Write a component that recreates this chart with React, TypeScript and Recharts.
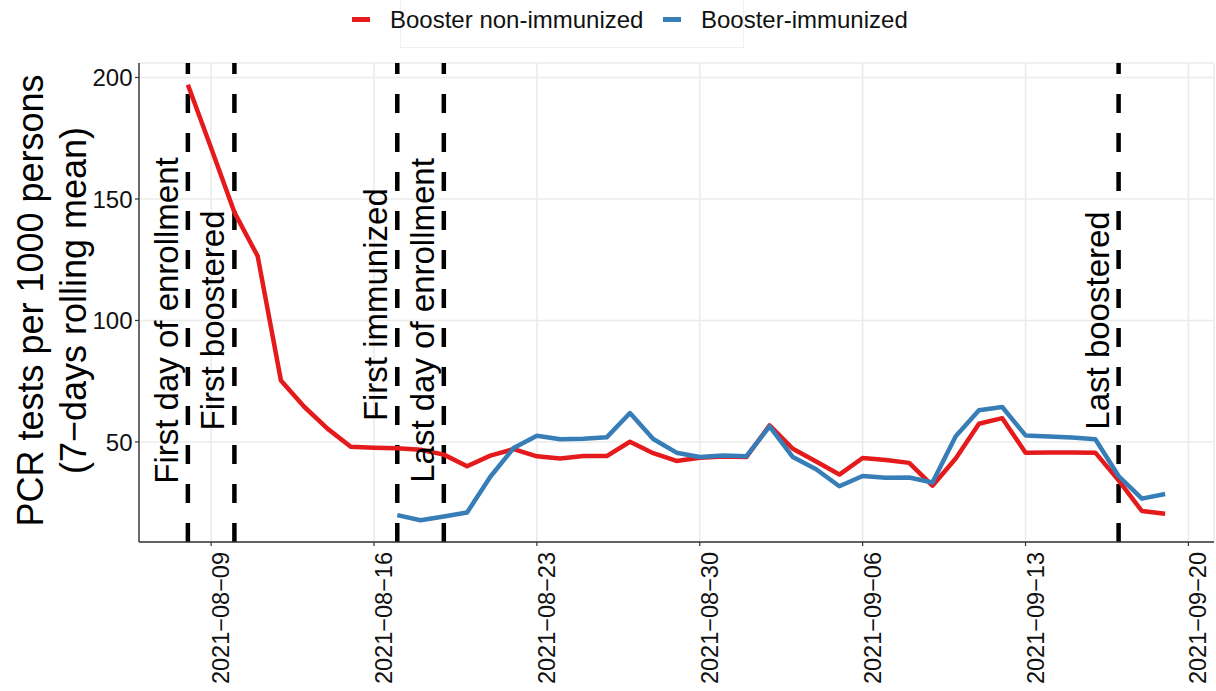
import { LineChart, Line, XAxis, YAxis, CartesianGrid, ReferenceLine, ReferenceDot } from 'recharts';

// daily 7-day rolling mean of PCR tests per 1000 persons
const dates = [
  '2021-08-08', '2021-08-09', '2021-08-10', '2021-08-11', '2021-08-12', '2021-08-13', '2021-08-14',
  '2021-08-15', '2021-08-16', '2021-08-17', '2021-08-18', '2021-08-19', '2021-08-20', '2021-08-21',
  '2021-08-22', '2021-08-23', '2021-08-24', '2021-08-25', '2021-08-26', '2021-08-27', '2021-08-28',
  '2021-08-29', '2021-08-30', '2021-08-31', '2021-09-01', '2021-09-02', '2021-09-03', '2021-09-04',
  '2021-09-05', '2021-09-06', '2021-09-07', '2021-09-08', '2021-09-09', '2021-09-10', '2021-09-11',
  '2021-09-12', '2021-09-13', '2021-09-14', '2021-09-15', '2021-09-16', '2021-09-17', '2021-09-18',
  '2021-09-19',
];

const nonImmunized = [
  197, 171, 144.5, 126.5, 75.3, 64.5, 55.5,
  48.0, 47.6, 47.4, 46.8, 44.8, 40.0, 44.4,
  47.1, 44.1, 43.2, 44.2, 44.2, 50.1, 45.4,
  42.2, 43.5, 44.0, 43.8, 56.8, 47.2, 42.0,
  36.6, 43.4, 42.6, 41.4, 32.0, 43.2, 57.5,
  59.8, 45.6, 45.7, 45.7, 45.6, 34.2, 21.6,
  20.5,
];

const immunized: (number | null)[] = [
  null, null, null, null, null, null, null,
  null, null, 19.9, 17.8, 19.3, 21.0, 35.7,
  47.5, 52.6, 51.1, 51.3, 51.9, 61.9, 51.2,
  45.6, 43.8, 44.4, 44.1, 56.4, 43.8, 38.8,
  31.8, 36.0, 35.3, 35.4, 33.3, 52.4, 63.1,
  64.4, 52.7, 52.3, 51.8, 51.1, 36.0, 26.7,
  28.6,
];

const tickDates = ['2021-08-09', '2021-08-16', '2021-08-23', '2021-08-30', '2021-09-06', '2021-09-13', '2021-09-20'];
const yTicks = [50, 100, 150, 200];

const eventDates = ['2021-08-08', '2021-08-10', '2021-08-17', '2021-08-19', '2021-09-17'];
const eventLabels = ['First day of enrollment', 'First boostered', 'First immunized', 'Last day of enrollment', 'Last boostered'];
// vertical centre of each rotated label, in y units
const eventLabelY = [100, 100, 106.5, 100, 100];

const RED = '#E41A1C';
const BLUE = '#377EB8';
const FONT = '"Liberation Sans", Arial, Helvetica, sans-serif';

const toDay = (s: string) => Date.parse(s + 'T00:00:00Z') / 86400000;
const fmtDay = (d: number) => new Date(Math.round(d) * 86400000).toISOString().slice(0, 10).replace(/-/g, '\u2212');

const rows = dates.map((d, i) => ({ t: toDay(d), nonImm: nonImmunized[i], imm: immunized[i] }));

// ggplot-style 5% expansion on both scales
const tMin = rows[0].t;
const tMax = rows[rows.length - 1].t;
const tPad = (tMax - tMin) * 0.05;
const allVals = [...nonImmunized, ...immunized.filter((v): v is number => v != null)];
const vMin = Math.min(...allVals);
const vMax = Math.max(...allVals);
const vPad = (vMax - vMin) * 0.05;

const XTick = ({ x, y, payload }: any) => (
  <text
    transform={`translate(${x},${y}) rotate(-90)`}
    x={0}
    y={18}
    textAnchor="end"
    fontSize={23.5}
    fontFamily={FONT}
    fill="#111"
  >
    {fmtDay(payload.value)}
  </text>
);

const YTick = ({ x, y, payload }: any) => (
  <text x={x - 0.5} y={y} dy="0.36em" textAnchor="end" fontSize={24} fontFamily={FONT} fill="#111">
    {payload.value}
  </text>
);

const YTitle = () => (
  <g fontFamily={FONT} fontSize={36} fill="#000">
    <text transform="translate(43,300.5) rotate(-90)" textAnchor="middle">
      PCR tests per 1000 persons
    </text>
    <text transform="translate(85.5,300.5) rotate(-90)" textAnchor="middle">
      (7{'\u2212'}days rolling mean)
    </text>
  </g>
);

const eventLabelShape = (text: string) => (p: any) => (
  <text
    transform={`translate(${p.cx - 10},${p.cy}) rotate(-90)`}
    textAnchor="middle"
    fontSize={33}
    fontFamily={FONT}
    fill="#000"
  >
    {text}
  </text>
);

function ChartLegend() {
  const item = (color: string, label: string, keyX: number, textX: number) => (
    <>
      <div style={{ position: 'absolute', left: keyX, top: 17, width: 18, height: 4.5, background: color }} />
      <div
        style={{
          position: 'absolute',
          left: textX,
          top: 5,
          fontSize: 24,
          lineHeight: '29px',
          fontFamily: FONT,
          color: '#111',
          whiteSpace: 'nowrap',
        }}
      >
        {label}
      </div>
    </>
  );
  return (
    <>
      <div
        style={{
          position: 'absolute',
          left: 400,
          top: -1,
          width: 344,
          height: 49,
          border: '1px solid #f0f0f0',
          boxSizing: 'border-box',
        }}
      />
      {item(RED, 'Booster non-immunized', 352, 390)}
      {item(BLUE, 'Booster-immunized', 663, 701)}
    </>
  );
}

export default function App() {
  return (
    <div style={{ position: 'relative', width: 1216, height: 691, background: '#fff', overflow: 'hidden' }}>
      <style>{'body{margin:0}'}</style>
      <ChartLegend />
      <LineChart
        width={1216}
        height={691}
        data={rows}
        margin={{ top: 63, right: 2, bottom: 0, left: 0 }}
        style={{ position: 'absolute', left: 0, top: 0 }}
      >
        <CartesianGrid stroke="#ebebeb" strokeWidth={1.6} />
        <XAxis
          dataKey="t"
          type="number"
          domain={[tMin - tPad, tMax + tPad]}
          ticks={tickDates.map(toDay)}
          allowDataOverflow
          height={149}
          tick={<XTick />}
          tickSize={4}
          tickMargin={6}
          tickLine={{ stroke: '#333', strokeWidth: 1.2 }}
          axisLine={{ stroke: '#333', strokeWidth: 1.4 }}
        />
        <YAxis
          type="number"
          domain={[vMin - vPad, vMax + vPad]}
          ticks={yTicks}
          allowDataOverflow
          width={139}
          tick={<YTick />}
          tickSize={4}
          tickMargin={2}
          tickLine={{ stroke: '#333', strokeWidth: 1.2 }}
          axisLine={{ stroke: '#333', strokeWidth: 1.4 }}
          label={<YTitle />}
        />
        {eventDates.map((d) => (
          <ReferenceLine key={d} x={toDay(d)} stroke="#000" strokeWidth={4.5} strokeDasharray="19 20" />
        ))}
        <Line
          dataKey="nonImm"
          stroke={RED}
          strokeWidth={4.5}
          dot={false}
          activeDot={false}
          isAnimationActive={false}
          strokeLinejoin="round"
        />
        <Line
          dataKey="imm"
          stroke={BLUE}
          strokeWidth={4.5}
          dot={false}
          activeDot={false}
          isAnimationActive={false}
          strokeLinejoin="round"
        />
        {eventDates.map((d, i) => (
          <ReferenceDot
            key={'lbl' + d}
            x={toDay(d)}
            y={eventLabelY[i]}
            r={0}
            shape={eventLabelShape(eventLabels[i])}
          />
        ))}
      </LineChart>
    </div>
  );
}
